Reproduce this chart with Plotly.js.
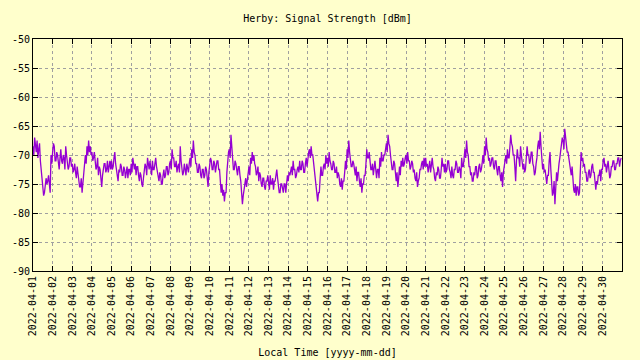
<!DOCTYPE html>
<html>
<head>
<meta charset="utf-8">
<script src="https://cdn.plot.ly/plotly-3.0.1.min.js"></script>
<style>
  html, body { margin: 0; padding: 0; background: #ffffcc; }
  #chart { width: 640px; height: 360px; }
</style>
</head>
<body>
<div id="chart"></div>
<script>
// Sampling: one reading every hour, starting 2022-04-01 00:00
const startTime = '2022-04-01T00:00:00';
const intervalHours = 1;

// Signal strength readings [dBm], 24 per day
const signalDbm = [
  // 04-01
  -68.5, -70.0, -67.0, -69.0, -69.5, -67.5, -70.5, -69.0, -68.0, -71.0, -72.5, -74.0, -74.5, -77.0, -76.5, -74.5, -74.0, -75.0, -74.5, -73.5, -75.5, -76.5, -70.0, -71.5,
  // 04-02
  -69.5, -68.0, -68.5, -71.0, -71.0, -69.5, -70.0, -72.0, -72.5, -70.5, -69.0, -71.0, -71.5, -70.0, -70.5, -72.5, -68.5, -70.0, -71.0, -72.5, -72.0, -70.5, -70.5, -72.0,
  // 04-03
  -71.5, -73.0, -72.5, -71.5, -73.0, -74.0, -72.0, -73.0, -74.0, -75.5, -75.5, -74.0, -76.5, -75.0, -74.0, -72.5, -70.0, -71.5, -68.5, -70.0, -67.5, -69.5, -68.5, -70.0,
  // 04-04
  -69.5, -71.0, -70.5, -69.5, -71.0, -72.5, -72.0, -70.5, -73.5, -72.0, -72.5, -74.0, -75.5, -73.5, -72.5, -71.5, -71.5, -73.0, -72.5, -71.0, -73.0, -72.0, -71.0, -72.5,
  // 04-05
  -71.0, -72.5, -72.0, -70.5, -69.5, -71.5, -72.5, -74.0, -74.5, -72.5, -73.0, -71.5, -72.0, -73.5, -73.5, -72.0, -72.5, -74.0, -73.0, -72.0, -74.0, -72.5, -72.5, -73.5,
  // 04-06
  -71.5, -73.0, -70.5, -72.0, -72.5, -71.5, -73.5, -72.0, -72.0, -73.5, -74.5, -73.0, -73.5, -75.0, -75.5, -74.0, -73.0, -71.5, -72.0, -73.5, -70.5, -72.0, -72.5, -71.0,
  // 04-07
  -72.0, -73.5, -71.0, -72.5, -72.5, -71.0, -70.5, -72.0, -73.0, -74.0, -74.5, -73.0, -73.5, -75.0, -75.0, -73.5, -72.5, -74.0, -73.5, -72.0, -72.0, -73.5, -73.0, -71.5,
  // 04-08
  -71.0, -72.5, -69.0, -70.5, -70.5, -72.0, -72.0, -71.0, -73.0, -72.0, -71.5, -73.0, -68.5, -71.0, -72.0, -73.5, -73.0, -71.5, -72.5, -73.5, -71.5, -72.5, -73.0, -71.5,
  // 04-09
  -70.5, -72.0, -69.0, -70.5, -67.5, -69.5, -70.0, -71.5, -71.5, -73.0, -73.0, -71.5, -72.0, -73.5, -74.0, -72.5, -72.5, -74.0, -73.5, -72.0, -72.5, -74.0, -75.5, -73.0,
  // 04-10
  -72.0, -70.5, -71.0, -72.5, -72.5, -71.0, -71.5, -73.0, -72.0, -71.0, -71.0, -72.5, -72.5, -74.0, -76.5, -75.0, -77.0, -76.0, -78.0, -76.5, -76.5, -73.0, -70.5, -69.5,
  // 04-11
  -69.0, -70.5, -66.5, -69.0, -71.0, -72.5, -72.5, -71.0, -71.5, -73.0, -73.5, -72.0, -72.0, -73.5, -74.5, -76.5, -78.5, -77.0, -76.0, -74.5, -74.0, -75.5, -74.5, -73.0,
  // 04-12
  -72.0, -73.5, -70.5, -71.5, -69.5, -71.0, -70.0, -71.5, -72.0, -73.5, -73.0, -72.0, -74.5, -73.0, -73.5, -75.0, -75.5, -74.0, -74.0, -75.5, -76.0, -74.5, -74.5, -73.5,
  // 04-13
  -74.5, -76.0, -73.5, -75.0, -75.0, -74.0, -76.0, -74.5, -74.5, -73.0, -72.5, -74.0, -75.5, -76.5, -76.5, -75.0, -75.0, -76.0, -76.5, -75.0, -75.0, -76.5, -74.5, -73.5,
  // 04-14
  -74.5, -73.0, -73.5, -72.5, -72.0, -73.5, -71.0, -72.5, -72.5, -74.0, -73.5, -72.5, -72.0, -73.0, -71.0, -72.5, -72.5, -71.0, -71.5, -73.0, -73.0, -71.5, -70.5, -72.0,
  // 04-15
  -70.5, -69.5, -69.0, -70.5, -68.5, -70.0, -70.0, -71.5, -72.5, -74.0, -76.0, -77.5, -78.0, -76.5, -76.5, -74.0, -72.0, -73.5, -73.5, -72.0, -71.5, -72.5, -70.0, -71.5,
  // 04-16
  -70.5, -72.0, -69.5, -71.0, -71.5, -72.5, -72.5, -71.0, -71.5, -73.0, -73.0, -72.0, -74.0, -73.0, -73.5, -75.0, -75.5, -74.0, -76.0, -74.5, -74.5, -73.0, -71.0, -72.5,
  // 04-17
  -69.0, -70.5, -67.5, -69.5, -70.5, -72.0, -72.0, -71.0, -71.5, -73.0, -73.5, -72.0, -74.5, -73.0, -73.0, -74.5, -75.5, -74.0, -76.5, -75.0, -75.0, -73.5, -73.5, -71.5,
  // 04-18
  -69.0, -70.5, -70.5, -69.5, -71.0, -72.5, -72.5, -71.5, -73.5, -72.0, -71.0, -72.5, -74.0, -72.5, -72.5, -74.0, -70.5, -72.0, -69.5, -71.0, -71.0, -70.0, -70.0, -69.0,
  // 04-19
  -68.0, -69.5, -66.5, -68.0, -68.5, -70.0, -71.0, -72.5, -72.5, -71.0, -71.5, -73.0, -74.5, -73.0, -75.5, -74.0, -72.0, -73.5, -71.0, -72.0, -70.5, -72.0, -71.5, -70.5,
  // 04-20
  -70.0, -71.5, -69.5, -71.0, -71.0, -72.5, -72.0, -71.0, -71.5, -73.0, -72.5, -74.0, -74.5, -73.0, -75.5, -74.5, -74.0, -72.5, -72.5, -71.5, -71.0, -72.5, -70.5, -72.0,
  // 04-21
  -70.5, -72.0, -71.5, -73.0, -72.0, -71.0, -73.0, -72.0, -70.5, -72.0, -72.5, -74.0, -74.5, -73.0, -73.5, -72.0, -72.5, -74.0, -74.0, -72.5, -70.5, -72.0, -71.5, -73.0,
  // 04-22
  -71.5, -73.0, -72.5, -71.0, -71.0, -72.5, -73.0, -74.0, -72.0, -73.5, -74.0, -72.5, -72.5, -71.0, -71.5, -73.0, -73.0, -72.0, -72.5, -74.0, -70.5, -72.0, -72.0, -70.5,
  // 04-23
  -69.0, -70.5, -67.5, -69.5, -70.0, -72.0, -72.0, -73.5, -73.0, -74.5, -74.5, -73.0, -73.5, -72.0, -72.0, -74.0, -73.5, -72.0, -71.5, -73.0, -72.5, -71.5, -70.0, -71.5,
  // 04-24
  -68.5, -70.0, -67.0, -69.0, -69.5, -71.0, -70.5, -72.0, -71.5, -70.5, -70.5, -72.0, -72.5, -71.0, -71.0, -72.5, -73.5, -72.0, -72.0, -73.5, -74.5, -73.0, -75.5, -73.0,
  // 04-25
  -72.0, -70.5, -70.0, -71.5, -69.0, -70.5, -70.5, -68.5, -66.5, -68.0, -68.5, -70.0, -70.0, -72.0, -74.5, -71.0, -69.0, -70.5, -70.5, -72.0, -68.5, -70.0, -71.0, -72.5,
  // 04-26
  -71.5, -73.0, -72.5, -70.5, -68.5, -70.0, -70.0, -71.5, -71.0, -69.5, -69.5, -71.5, -72.0, -73.5, -73.0, -71.5, -70.5, -68.5, -67.5, -69.0, -66.0, -68.5, -71.0, -72.5,
  // 04-27
  -71.5, -73.0, -72.5, -74.0, -75.0, -73.5, -73.5, -71.0, -69.5, -72.5, -75.5, -77.0, -76.5, -74.5, -78.5, -75.5, -73.0, -74.5, -72.5, -71.5, -70.5, -69.5, -68.5, -67.0,
  // 04-28
  -67.5, -69.0, -65.5, -67.0, -68.0, -69.5, -69.5, -70.5, -71.0, -72.5, -73.5, -72.0, -74.5, -76.0, -76.5, -75.0, -77.0, -75.5, -75.5, -77.0, -76.5, -73.0, -69.5, -71.0,
  // 04-29
  -70.5, -72.0, -71.5, -73.0, -73.0, -74.5, -74.5, -73.0, -72.5, -74.0, -73.5, -72.0, -71.5, -73.0, -73.0, -74.5, -76.0, -74.5, -75.0, -73.5, -73.5, -72.5, -74.5, -72.5,
  // 04-30
  -72.5, -71.0, -70.5, -72.0, -71.5, -73.0, -72.0, -71.0, -72.5, -74.0, -73.5, -72.0, -72.0, -71.0, -71.0, -72.5, -72.5, -71.5, -71.5, -70.5, -70.5, -72.0, -71.0, -70.5
];

// X axis tick dates (one per day)
const xTickDates = [
  '2022-04-01', '2022-04-02', '2022-04-03', '2022-04-04', '2022-04-05',
  '2022-04-06', '2022-04-07', '2022-04-08', '2022-04-09', '2022-04-10',
  '2022-04-11', '2022-04-12', '2022-04-13', '2022-04-14', '2022-04-15',
  '2022-04-16', '2022-04-17', '2022-04-18', '2022-04-19', '2022-04-20',
  '2022-04-21', '2022-04-22', '2022-04-23', '2022-04-24', '2022-04-25',
  '2022-04-26', '2022-04-27', '2022-04-28', '2022-04-29', '2022-04-30'
];

// Y axis ticks
const yTickVals = [-90, -85, -80, -75, -70, -65, -60, -55, -50];
const yTickLabels = ['-90', '-85', '-80', '-75', '-70', '-65', '-60', '-55', '-50'];

// Build timestamps from sampling start + index
const t0 = new Date(startTime + 'Z').getTime();
function fmt(ms) {
  const d = new Date(ms);
  const p = n => String(n).padStart(2, '0');
  return d.getUTCFullYear() + '-' + p(d.getUTCMonth() + 1) + '-' + p(d.getUTCDate()) +
    ' ' + p(d.getUTCHours()) + ':' + p(d.getUTCMinutes());
}
const times = signalDbm.map((_, i) => fmt(t0 + i * intervalHours * 3600000));

const font = { family: 'DejaVu Sans Mono, monospace', size: 10, color: '#000' };

const trace = {
  x: times,
  y: signalDbm,
  type: 'scatter',
  mode: 'lines',
  line: { color: '#9400d3', width: 1.3 },
  hoverinfo: 'skip'
};

const layout = {
  width: 640,
  height: 360,
  paper_bgcolor: '#ffffcc',
  plot_bgcolor: '#ffffcc',
  font: font,
  showlegend: false,
  margin: { l: 33, r: 18, t: 39, b: 89 },
  title: {
    text: 'Herby: Signal Strength [dBm]',
    font: font,
    x: 0.5, xref: 'paper',
    y: 1 - 18 / 360, yref: 'container', yanchor: 'middle'
  },
  xaxis: {
    type: 'date',
    range: ['2022-04-01 00:00', '2022-05-01 00:00'],
    tickmode: 'array',
    tickvals: xTickDates,
    ticktext: xTickDates,
    tickangle: -90,
    ticks: 'inside',
    ticklen: 5,
    tickcolor: '#000',
    showline: true,
    linecolor: '#000',
    linewidth: 1,
    mirror: 'ticks',
    showgrid: true,
    gridcolor: '#a0a0a0',
    griddash: '3px,3px',
    gridwidth: 1,
    zeroline: false,
    tickfont: font,
    title: { text: 'Local Time [yyyy-mm-dd]', font: font, standoff: 13 }
  },
  yaxis: {
    range: [-90, -50],
    tickmode: 'array',
    tickvals: yTickVals,
    ticktext: yTickLabels,
    ticks: 'inside',
    ticklen: 5,
    tickcolor: '#000',
    showline: true,
    linecolor: '#000',
    linewidth: 1,
    mirror: 'ticks',
    showgrid: true,
    gridcolor: '#a0a0a0',
    griddash: '3px,3px',
    gridwidth: 1,
    zeroline: false,
    tickfont: font
  }
};

Plotly.newPlot('chart', [trace], layout, { staticPlot: true, displayModeBar: false });
</script>
</body>
</html>
